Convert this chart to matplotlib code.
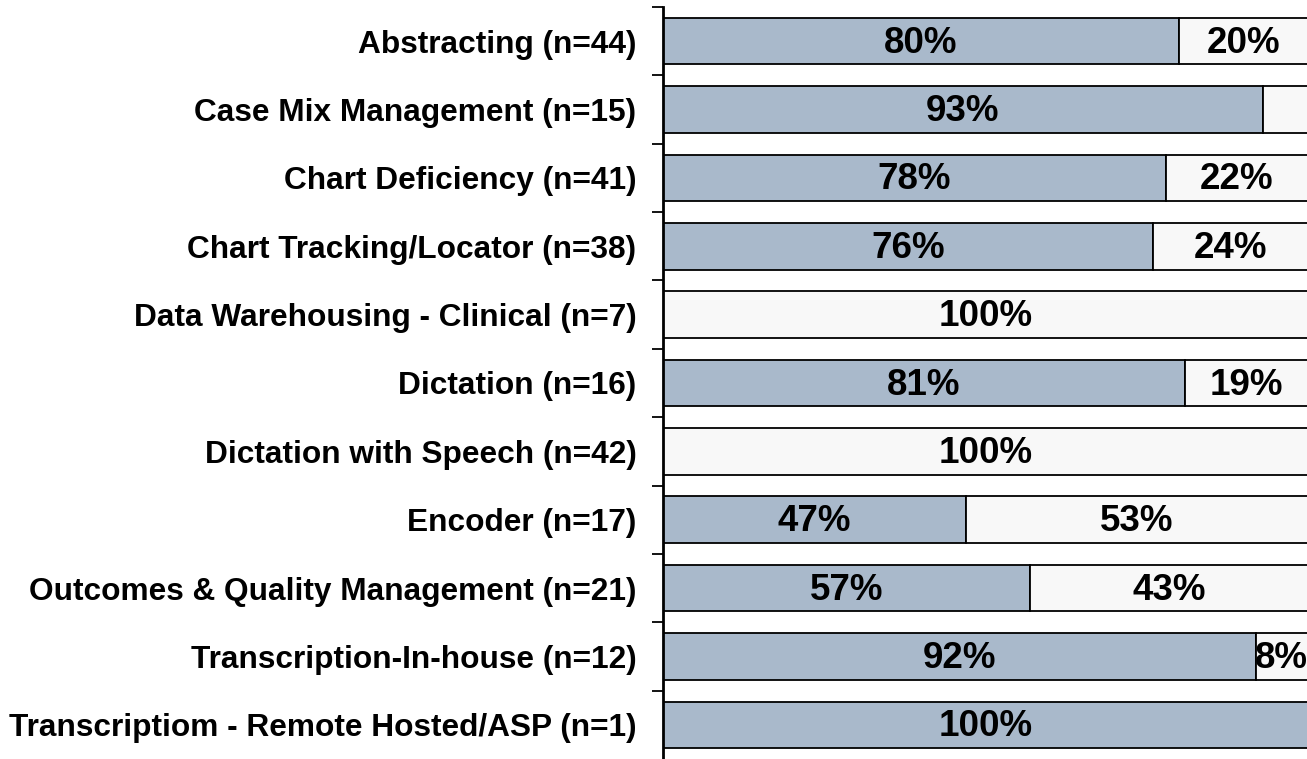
import numpy as np
import matplotlib.pyplot as plt

plt.rcParams['font.family'] = ['Liberation Sans', 'DejaVu Sans']

categories = [
    "Abstracting (n=44)",
    "Case Mix Management (n=15)",
    "Chart Deficiency (n=41)",
    "Chart Tracking/Locator (n=38)",
    "Data Warehousing - Clinical (n=7)",
    "Dictation (n=16)",
    "Dictation with Speech (n=42)",
    "Encoder (n=17)",
    "Outcomes & Quality Management (n=21)",
    "Transcription-In-house (n=12)",
    "Transcriptiom - Remote Hosted/ASP (n=1)",
]
first_pct = [80, 93, 78, 76, 0, 81, 0, 47, 57, 92, 100]
second_pct = [20, 7, 22, 24, 100, 19, 100, 53, 43, 8, 0]
# segments too narrow to carry a label
hide_second = [False, True, False, False, False, False, False, False, False, False, False]

blue = "#A9B9CB"
white = "#F8F8F8"

fig = plt.figure(figsize=(13.07, 7.59), dpi=100)
ax = fig.add_axes([663 / 1307, 0.0, 1 - 663 / 1307, 1 - 7 / 759])

n = len(categories)
y = np.arange(n)
h = 0.68

ax.barh(y, first_pct, height=h, color=blue, edgecolor="black", linewidth=1.3)
ax.barh(y, second_pct, left=first_pct, height=h, color=white, edgecolor="black", linewidth=1.3)

for i in range(n):
    a, b = first_pct[i], second_pct[i]
    if a > 0:
        ax.text(a / 2, y[i] + 0.03, f"{a}%", ha="center", va="center",
                fontsize=26.5, fontweight="bold")
    if b > 0 and not hide_second[i]:
        ax.text(a + b / 2, y[i] + 0.03, f"{b}%", ha="center", va="center",
                fontsize=26.5, fontweight="bold")

ax.set_xlim(0, 99.9)
ax.set_ylim(n - 0.5, -0.5)

# category boundaries as ticks, labels as minor ticks
ax.set_yticks(np.arange(n) - 0.5)
ax.set_yticklabels([])
ax.set_yticks(y, minor=True)
ax.set_yticklabels(categories, minor=True, fontsize=22.8, fontweight="bold")
ax.tick_params(axis="y", which="major", length=8, width=1.3, direction="out")
ax.tick_params(axis="y", which="minor", length=0, pad=19)

ax.set_xticks([])
for s in ["top", "right", "bottom"]:
    ax.spines[s].set_visible(False)
ax.spines["left"].set_linewidth(2)

fig.savefig("out.png", dpi=100)
